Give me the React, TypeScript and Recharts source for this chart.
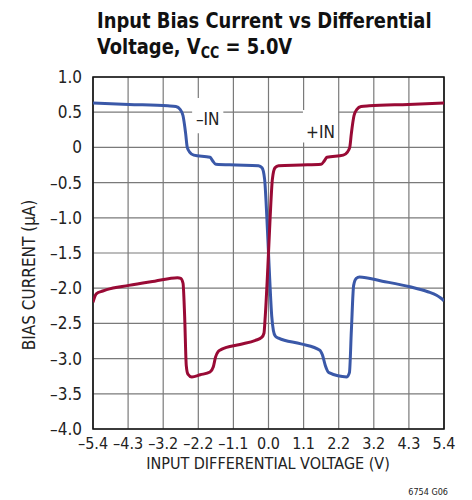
import React from 'react';
import {
  LineChart,
  Line,
  XAxis,
  YAxis,
  CartesianGrid,
  ReferenceArea,
} from 'recharts';

// tick positions and the labels printed under them
const xTicks = [-5.4, -4.32, -3.24, -2.16, -1.08, 0, 1.08, 2.16, 3.24, 4.32, 5.4];
const xTickLabels = ['–5.4', '–4.3', '–3.2', '–2.2', '–1.1', '0.0', '1.1', '2.2', '3.2', '4.3', '5.4'];
const yTicks = [1, 0.5, 0, -0.5, -1, -1.5, -2, -2.5, -3, -3.5, -4];
const yTickLabels = ['1.0', '0.5', '0', '–0.5', '–1.0', '–1.5', '–2.0', '–2.5', '–3.0', '–3.5', '–4.0'];

// -IN (blue)
const minusInX = [-5.4, -4.3, -3.1, -2.85, -2.72, -2.63, -2.55, -2.5, -2.42, -2.3, -1.8, -1.72, -1.62, -1.0, -0.31, -0.2, -0.12, -0.05, 0.02, 0.1, 0.15, 0.21, 0.31, 1.0, 1.58, 1.66, 1.75, 1.86, 2.41, 2.49, 2.55, 2.62, 2.7, 2.8, 3.5, 4.35, 4.9, 5.17, 5.3, 5.4];
const minusInY = [0.63, 0.61, 0.59, 0.58, 0.54, 0.45, 0.2, 0.0, -0.07, -0.11, -0.14, -0.19, -0.24, -0.25, -0.26, -0.29, -0.45, -1.0, -1.7, -2.4, -2.6, -2.68, -2.71, -2.79, -2.88, -2.95, -3.1, -3.2, -3.26, -3.2, -2.6, -1.96, -1.86, -1.84, -1.9, -1.98, -2.05, -2.1, -2.14, -2.18];

// +IN (red)
const plusInX = [-5.4, -5.3, -5.1, -4.98, -4.3, -3.5, -2.8, -2.7, -2.63, -2.58, -2.53, -2.48, -2.36, -2.1, -1.8, -1.7, -1.63, -1.55, -1.45, -0.88, -0.4, -0.21, -0.14, -0.1, -0.02, 0.05, 0.12, 0.2, 0.31, 1.0, 1.62, 1.72, 1.8, 2.3, 2.42, 2.5, 2.55, 2.63, 2.72, 2.85, 3.1, 4.3, 5.4];
const plusInY = [-2.2, -2.08, -2.04, -2.02, -1.96, -1.9, -1.85, -1.86, -1.93, -2.4, -3.1, -3.22, -3.26, -3.23, -3.19, -3.12, -2.98, -2.9, -2.87, -2.8, -2.74, -2.7, -2.64, -2.4, -1.7, -1.0, -0.45, -0.29, -0.26, -0.25, -0.24, -0.19, -0.14, -0.11, -0.07, 0.0, 0.2, 0.45, 0.54, 0.58, 0.59, 0.61, 0.63];

const minusIn = minusInX.map((x, i) => ({ x, y: minusInY[i] }));
const plusIn = plusInX.map((x, i) => ({ x, y: plusInY[i] }));

const FONT = '"DejaVu Sans Condensed", "Liberation Sans Narrow", sans-serif';

const App: React.FC = () => {
  const fmtX = (v: number) => {
    const i = xTicks.findIndex(t => Math.abs(t - v) < 1e-6);
    return i >= 0 ? xTickLabels[i] : '';
  };
  const fmtY = (v: number) => {
    const i = yTicks.findIndex(t => Math.abs(t - v) < 1e-6);
    return i >= 0 ? yTickLabels[i] : '';
  };

  return (
    <div style={{ position: 'absolute', left: 0, top: 0, width: 472, height: 500, background: '#fff', fontFamily: FONT }}>
      <svg width={472} height={70} style={{ position: 'absolute', left: 0, top: 0 }}>
        <g transform="translate(97,0) scale(0.905,1)">
          <text x={0} y={28} fontFamily={FONT} fontWeight="bold" fontSize={22} fill="#111">
            Input Bias Current vs Differential
          </text>
          <text x={0} y={54} fontFamily={FONT} fontWeight="bold" fontSize={22} fill="#111">
            Voltage, V<tspan fontSize={15.5} dy={4}>CC</tspan><tspan dy={-4}> = 5.0V</tspan>
          </text>
        </g>
      </svg>

      <div style={{ position: 'absolute', left: 0, top: 0 }}>
        <LineChart width={472} height={500} margin={{ top: 77, right: 28, bottom: 41, left: 0 }}>
          <CartesianGrid stroke="#7a7a7a" strokeWidth={1.2} horizontalValues={yTicks} verticalValues={xTicks} />
          <XAxis
            type="number"
            dataKey="x"
            domain={[-5.4, 5.4]}
            ticks={xTicks}
            tickFormatter={fmtX}
            axisLine={false}
            tickLine={false}
            height={30}
            interval={0}
            tick={{ fill: '#222', fontSize: 16, fontFamily: FONT }}
            tickMargin={3}
            allowDataOverflow
          />
          <YAxis
            type="number"
            dataKey="y"
            domain={[-4, 1]}
            ticks={yTicks}
            tickFormatter={fmtY}
            axisLine={false}
            tickLine={false}
            width={93}
            interval={0}
            tick={{ fill: '#222', fontSize: 17, fontFamily: FONT }}
            tickMargin={5}
            allowDataOverflow
          />
          <ReferenceArea x1={-2.35} x2={-1.39} y1={0.2} y2={0.7} fill="#fff" fillOpacity={1} stroke="none"
            label={{ value: '–IN', position: 'center', fill: '#222', fontSize: 17, fontFamily: FONT, dy: 3 }} />
          <ReferenceArea x1={1.06} x2={2.14} y1={0.07} y2={0.53} fill="#fff" fillOpacity={1} stroke="none"
            label={{ value: '+IN', position: 'center', fill: '#222', fontSize: 17, fontFamily: FONT, dy: 6 }} />
          <ReferenceArea x1={-5.4} x2={5.4} y1={-4} y2={1} fill="none" stroke="#111" strokeWidth={1.6} />
          <Line data={minusIn} dataKey="y" type="monotone" stroke="#3a58a8" strokeWidth={3} dot={false} isAnimationActive={false} />
          <Line data={plusIn} dataKey="y" type="monotone" stroke="#990a35" strokeWidth={3} dot={false} isAnimationActive={false} />
        </LineChart>
      </div>

      <svg width={472} height={500} style={{ position: 'absolute', left: 0, top: 0, pointerEvents: 'none' }}>
        <text x={268} y={469} textAnchor="middle" fontFamily={FONT} fontSize={16} fill="#222">
          INPUT DIFFERENTIAL VOLTAGE (V)
        </text>
        <text x={0} y={0} transform="translate(35,275) rotate(-90)" textAnchor="middle" fontFamily={FONT} fontSize={17} fill="#222">
          BIAS CURRENT (μA)
        </text>
        <text x={448} y={495} textAnchor="end" fontFamily={FONT} fontSize={9} fill="#222">
          6754 G06
        </text>
      </svg>
    </div>
  );
};

export default App;
